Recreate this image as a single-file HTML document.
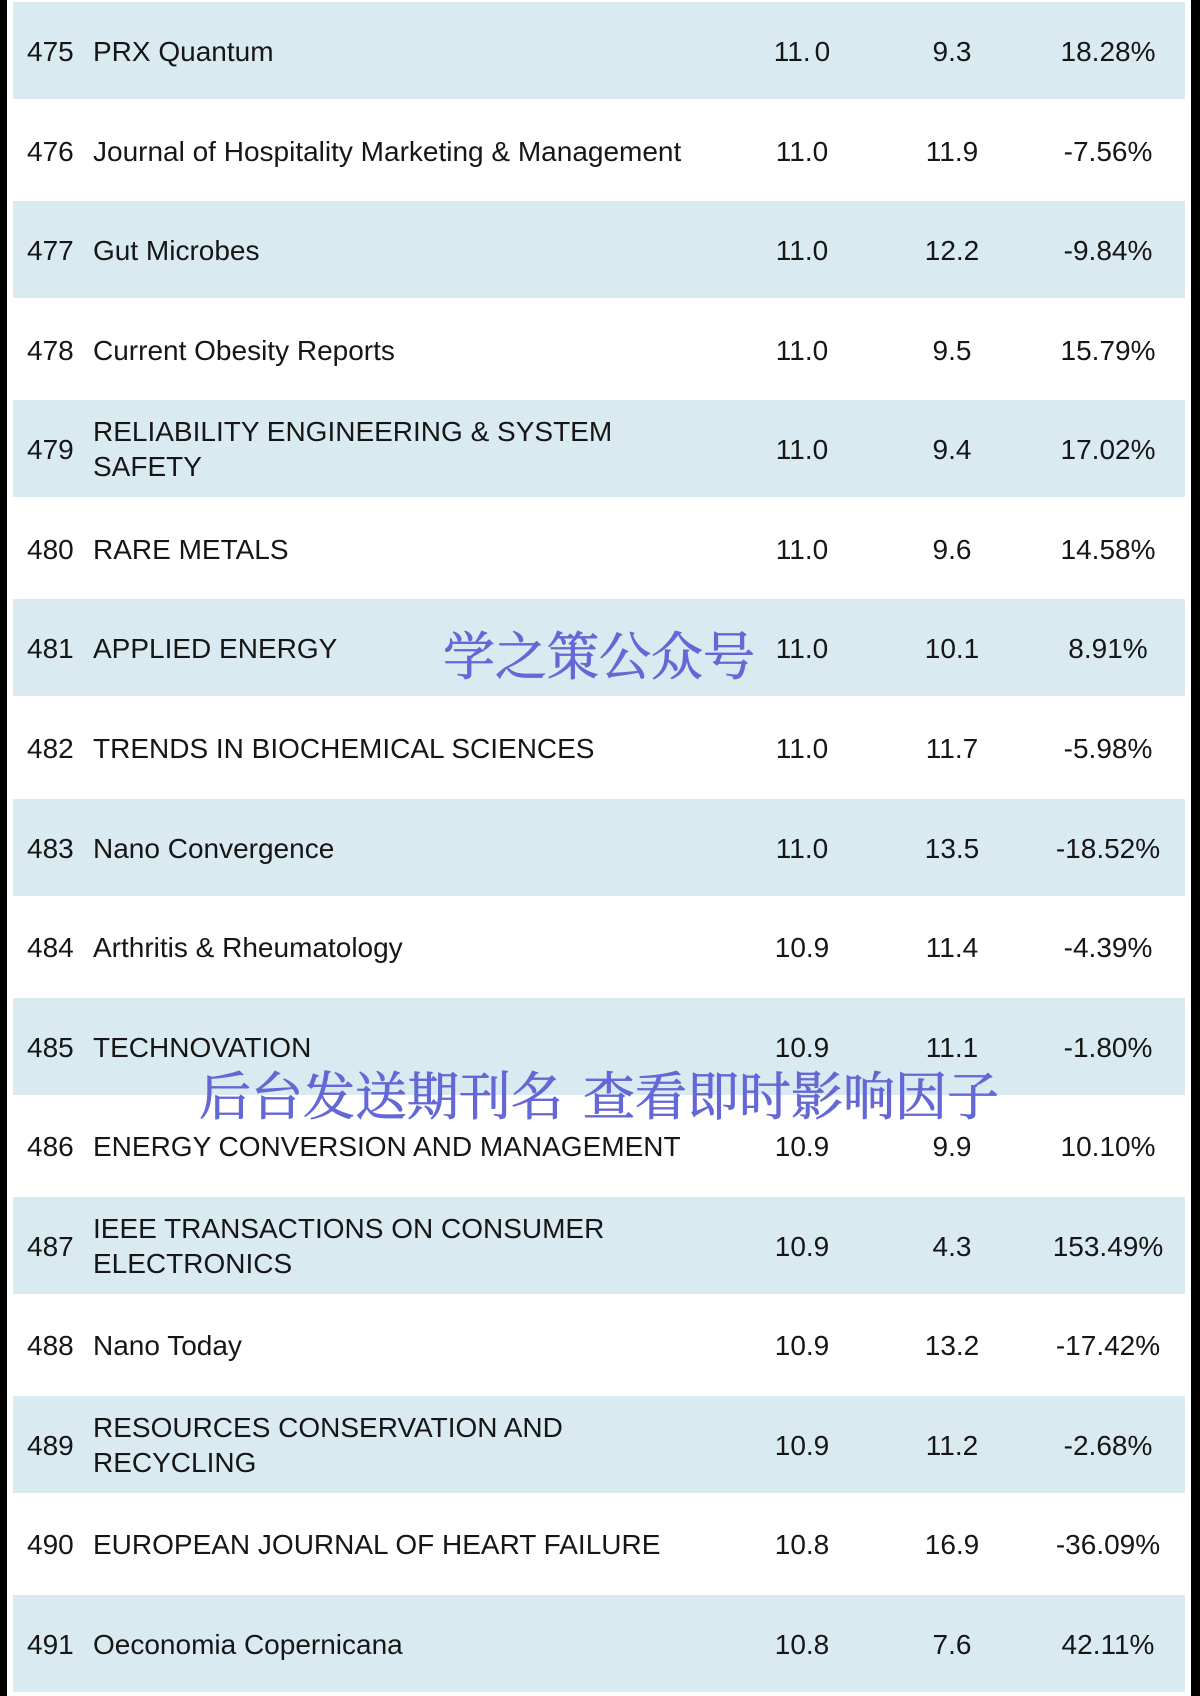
<!DOCTYPE html>
<html>
<head>
<meta charset="utf-8">
<style>
  html,body{margin:0;padding:0;}
  body{width:1200px;height:1696px;position:relative;background:#ffffff;overflow:hidden;
       font-family:"Liberation Sans",Arial,sans-serif;color:#161616;}
  .bl{position:absolute;top:0;left:0;width:7px;height:1696px;background:#000;}
  .br{position:absolute;top:0;left:1191px;width:9px;height:1696px;background:#000;}
  .r{position:absolute;left:13px;width:1172px;height:97px;}
  .b{background:#d9eaf1;}
  .r div{position:absolute;top:0;height:97px;display:flex;align-items:center;font-size:28px;padding-top:3px;box-sizing:border-box;white-space:nowrap;}
  .n{left:14px;}
  .t{left:80px;width:640px;}
  .t2{line-height:35px;padding-top:1px !important;}
  .c1{left:739px;width:100px;justify-content:center;}
  .c2{left:889px;width:100px;justify-content:center;}
  .c3{left:1035px;width:120px;justify-content:center;}
  .wm{position:absolute;font-family:"Noto Serif CJK SC","Noto Sans CJK SC",serif;font-size:52px;line-height:52px;color:#6368d6;white-space:nowrap;z-index:5;-webkit-text-stroke:0.8px #6368d6;}
</style>
</head>
<body>
<div class="bl"></div>
<div class="br"></div>

<div class="r b" style="top:2px"><div class="n">475</div><div class="t">PRX Quantum</div><div class="c1">11.<span style="margin-left:4px">0</span></div><div class="c2">9.3</div><div class="c3">18.28%</div></div>
<div class="r" style="top:101.6px"><div class="n">476</div><div class="t">Journal of Hospitality Marketing &amp; Management</div><div class="c1">11.0</div><div class="c2">11.9</div><div class="c3">-7.56%</div></div>
<div class="r b" style="top:201.1px"><div class="n">477</div><div class="t">Gut Microbes</div><div class="c1">11.0</div><div class="c2">12.2</div><div class="c3">-9.84%</div></div>
<div class="r" style="top:300.7px"><div class="n">478</div><div class="t">Current Obesity Reports</div><div class="c1">11.0</div><div class="c2">9.5</div><div class="c3">15.79%</div></div>
<div class="r b" style="top:400.2px"><div class="n">479</div><div class="t t2">RELIABILITY ENGINEERING &amp; SYSTEM<br>SAFETY</div><div class="c1">11.0</div><div class="c2">9.4</div><div class="c3">17.02%</div></div>
<div class="r" style="top:499.8px"><div class="n">480</div><div class="t">RARE METALS</div><div class="c1">11.0</div><div class="c2">9.6</div><div class="c3">14.58%</div></div>
<div class="r b" style="top:599.4px"><div class="n">481</div><div class="t">APPLIED ENERGY</div><div class="c1">11.0</div><div class="c2">10.1</div><div class="c3">8.91%</div></div>
<div class="r" style="top:698.9px"><div class="n">482</div><div class="t">TRENDS IN BIOCHEMICAL SCIENCES</div><div class="c1">11.0</div><div class="c2">11.7</div><div class="c3">-5.98%</div></div>
<div class="r b" style="top:798.5px"><div class="n">483</div><div class="t">Nano Convergence</div><div class="c1">11.0</div><div class="c2">13.5</div><div class="c3">-18.52%</div></div>
<div class="r" style="top:898px"><div class="n">484</div><div class="t">Arthritis &amp; Rheumatology</div><div class="c1">10.9</div><div class="c2">11.4</div><div class="c3">-4.39%</div></div>
<div class="r b" style="top:997.6px"><div class="n">485</div><div class="t">TECHNOVATION</div><div class="c1">10.9</div><div class="c2">11.1</div><div class="c3">-1.80%</div></div>
<div class="r" style="top:1097.2px"><div class="n">486</div><div class="t">ENERGY CONVERSION AND MANAGEMENT</div><div class="c1">10.9</div><div class="c2">9.9</div><div class="c3">10.10%</div></div>
<div class="r b" style="top:1196.7px"><div class="n">487</div><div class="t t2">IEEE TRANSACTIONS ON CONSUMER<br>ELECTRONICS</div><div class="c1">10.9</div><div class="c2">4.3</div><div class="c3">153.49%</div></div>
<div class="r" style="top:1296.3px"><div class="n">488</div><div class="t">Nano Today</div><div class="c1">10.9</div><div class="c2">13.2</div><div class="c3">-17.42%</div></div>
<div class="r b" style="top:1395.8px"><div class="n">489</div><div class="t t2">RESOURCES CONSERVATION AND<br>RECYCLING</div><div class="c1">10.9</div><div class="c2">11.2</div><div class="c3">-2.68%</div></div>
<div class="r" style="top:1495.4px"><div class="n">490</div><div class="t">EUROPEAN JOURNAL OF HEART FAILURE</div><div class="c1">10.8</div><div class="c2">16.9</div><div class="c3">-36.09%</div></div>
<div class="r b" style="top:1595px"><div class="n">491</div><div class="t">Oeconomia Copernicana</div><div class="c1">10.8</div><div class="c2">7.6</div><div class="c3">42.11%</div></div>

<div class="wm" style="left:443px;top:627px;">学之策公众号</div>
<div class="wm" style="left:199px;top:1067px;">后台发送期刊名<span style="display:inline-block;width:20px"></span>查看即时影响因子</div>
</body>
</html>
